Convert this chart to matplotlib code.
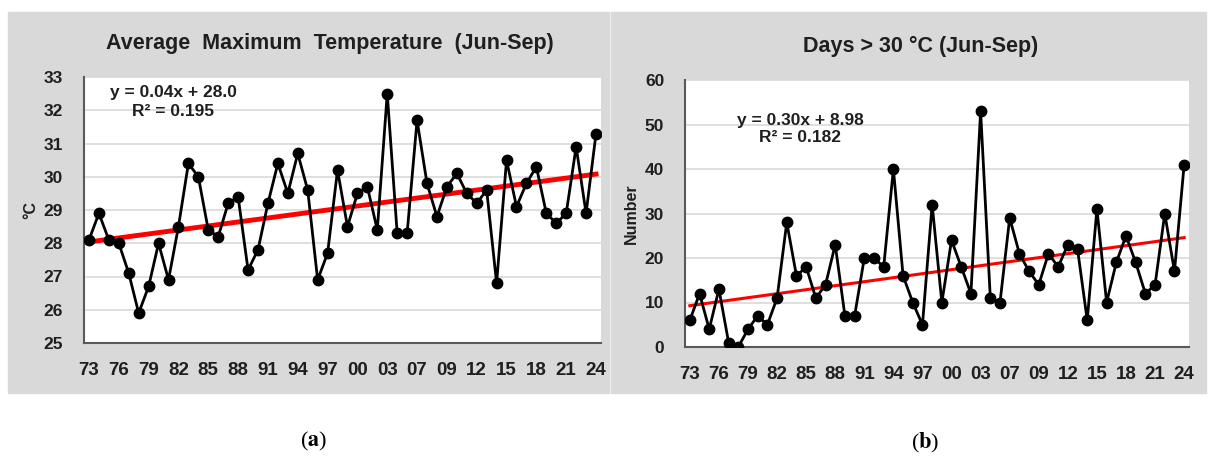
import matplotlib
matplotlib.use("Agg")
import matplotlib.pyplot as plt
from matplotlib.patches import Rectangle
import numpy as np

plt.rcParams["font.family"] = ["Liberation Sans", "DejaVu Sans"]
plt.rcParams["mathtext.fontset"] = "stix"

# data 1973-2024
years = list(range(1973, 2025))
tmax = [28.1, 28.9, 28.1, 28.0, 27.1, 25.9, 26.7, 28.0, 26.9, 28.5,
        30.4, 30.0, 28.4, 28.2, 29.2, 29.4, 27.2, 27.8, 29.2, 30.4,
        29.5, 30.7, 29.6, 26.9, 27.7, 30.2, 28.5, 29.5, 29.7, 28.4,
        32.5, 28.3, 28.3, 31.7, 29.8, 28.8, 29.7, 30.1, 29.5, 29.2,
        29.6, 26.8, 30.5, 29.1, 29.8, 30.3, 28.9, 28.6, 28.9, 30.9,
        28.9, 31.3]
days30 = [6, 12, 4, 13, 1, 0, 4, 7, 5, 11,
          28, 16, 18, 11, 14, 23, 7, 7, 20, 20,
          18, 40, 16, 10, 5, 32, 10, 24, 18, 12,
          53, 11, 10, 29, 21, 17, 14, 21, 18, 23,
          22, 6, 31, 10, 19, 25, 19, 12, 14, 30,
          17, 41]
tick_labels = ["73", "76", "79", "82", "85", "88", "91", "94", "97",
               "00", "03", "07", "09", "12", "15", "18", "21", "24"]
# trend lines as printed on the chart
trend_a = (0.04, 28.0)
trend_b = (0.30, 8.98)

W, H = 1209, 458
fig = plt.figure(figsize=(W / 100, H / 100), dpi=100)

def px(x0, y0, x1, y1):
    return [x0 / W, 1 - y1 / H, (x1 - x0) / W, (y1 - y0) / H]

gray = "#D9D9D9"
txt = "#1f1f1f"
for box in (px(8, 12, 609, 393), px(611, 12, 1206, 393)):
    fig.patches.append(Rectangle((box[0], box[1]), box[2], box[3],
                                 transform=fig.transFigure, color=gray, zorder=-5))

trend_lw = {"°C": 3.5, "Number": 2.2}

def panel(rect, values, trend, ylim, yticks, ylabel, eq, r2, eq_xy, title, title_xy):
    ax = fig.add_axes(rect)
    ax.set_facecolor("white")
    x = np.arange(len(values))
    ax.plot(x, values, color="black", lw=2, marker="o", ms=7.5, zorder=3)
    k, b = trend
    ax.plot(x, k * (x + 1) + b, color="#FF0000", lw=trend_lw[ylabel], zorder=2)
    ax.set_xlim(-0.5, len(values) - 0.5)
    ax.set_ylim(*ylim)
    ax.set_yticks(yticks)
    ax.set_xticks(x[::3])
    ax.set_xticklabels(tick_labels)
    ax.grid(axis="y", color="#D9D9D9", lw=1.2)
    ax.set_axisbelow(True)
    for s in ("top", "right"):
        ax.spines[s].set_visible(False)
    for s in ("left", "bottom"):
        ax.spines[s].set_color("#595959")
        ax.spines[s].set_linewidth(1.5)
    ax.tick_params(length=0)
    ax.tick_params(axis="x", pad=14, labelsize=13.5, labelcolor=txt)
    ax.tick_params(axis="y", pad=15, labelsize=12.5, labelcolor=txt)
    for t in ax.get_xticklabels() + ax.get_yticklabels():
        t.set_fontweight("bold")
    ax.set_ylabel(ylabel, fontsize=11.5, fontweight="bold", color=txt, labelpad=4)
    fig.text(eq_xy[0] / W, 1 - eq_xy[1] / H, eq, ha="center", va="center",
             fontsize=12.5, fontweight="bold", color=txt)
    fig.text(eq_xy[0] / W, 1 - (eq_xy[1] + 18) / H, r2, ha="center", va="center",
             fontsize=12.5, fontweight="bold", color=txt)
    fig.text(title_xy[0] / W, 1 - title_xy[1] / H, title, ha="center", va="center",
             fontsize=15.5, fontweight="bold", color=txt)
    return ax

panel(px(84, 77, 601, 343), tmax, trend_a, (25, 33), range(25, 34), "°C",
      "y = 0.04x + 28.0", "R² = 0.195", (173, 93),
      "Average  Maximum  Temperature  (Jun-Sep)", (330, 43))
panel(px(685, 80, 1189, 347), days30, trend_b, (0, 60), range(0, 61, 10), "Number",
      "y = 0.30x + 8.98", "R² = 0.182", (800, 120),
      "Days > 30 °C (Jun-Sep)", (921, 46))

fig.text(314 / W, 1 - 441 / H, r"($\mathbf{a}$)", ha="center", va="center",
         fontsize=16, family="Liberation Serif")
fig.text(925 / W, 1 - 443 / H, r"($\mathbf{b}$)", ha="center", va="center",
         fontsize=16, family="Liberation Serif")

fig.savefig("out.png", dpi=100)
